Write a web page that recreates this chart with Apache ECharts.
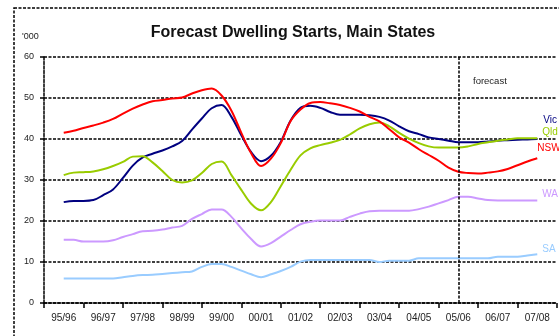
<!DOCTYPE html>
<html>
<head>
<meta charset="utf-8">
<script src="https://cdn.jsdelivr.net/npm/echarts@6/dist/echarts.min.js"></script>
<style>
  html, body { margin: 0; padding: 0; background: #fff; }
  #chart { width: 559px; height: 336px; }
</style>
</head>
<body>
<div id="chart"></div>
<script>
// Financial years shown on the axis
const yearLabels = ['95/96', '96/97', '97/98', '98/99', '99/00', '00/01', '01/02',
  '02/03', '03/04', '04/05', '05/06', '06/07', '07/08'];

// Quarterly dwelling starts ('000), from mid 95/96 to mid 07/08
const firstQuarter = 1996.0;   // mid-point of 95/96 (fiscal year as decimal year)
const forecastFrom = 2006.0;   // mid-point of 05/06

const vic = [24.6, 24.9, 24.9, 25.1, 26.3, 27.7, 30.5, 33.5, 35.5, 36.4, 37.2, 38.2,
  39.5, 42.3, 45.0, 47.5, 48.3, 45.4, 40.9, 36.8, 34.6, 35.9, 39.3, 44.5,
  47.6, 48.1, 47.6, 46.6, 45.9, 45.9, 45.9, 45.8, 45.4, 44.5, 43.1, 41.9,
  41.2, 40.4, 40.0, 39.6, 39.2, 39.2, 39.2, 39.4, 39.6, 39.7, 39.8, 39.9, 40.0];

const qld = [31.2, 31.8, 31.9, 32.1, 32.6, 33.4, 34.4, 35.7, 35.8, 34.3, 32.2, 30.0,
  29.4, 29.9, 31.7, 33.9, 34.5, 31.2, 27.6, 24.2, 22.6, 24.6, 28.5, 32.5,
  36.0, 37.7, 38.5, 39.1, 39.8, 41.1, 42.6, 43.6, 44.0, 43.1, 41.5, 40.1,
  39.0, 38.2, 37.9, 37.9, 37.9, 38.2, 38.8, 39.2, 39.6, 39.9, 40.2, 40.2, 40.2];

const nsw = [41.5, 42.0, 42.7, 43.3, 44.0, 44.9, 46.2, 47.4, 48.4, 49.2, 49.5, 49.9,
  50.1, 51.1, 51.9, 52.3, 50.6, 46.9, 41.5, 36.5, 33.4, 35.2, 39.0, 44.4,
  47.2, 48.8, 49.0, 48.7, 48.3, 47.6, 46.7, 45.4, 44.3, 42.4, 40.4, 39.1,
  37.5, 36.1, 34.7, 33.0, 32.0, 31.7, 31.6, 31.8, 32.1, 32.7, 33.6, 34.5, 35.3];

const wa = [15.4, 15.4, 15.0, 15.0, 15.0, 15.3, 16.1, 16.8, 17.5, 17.6, 17.9, 18.4,
  18.8, 20.5, 21.7, 22.8, 22.8, 21.0, 18.2, 15.6, 13.8, 14.6, 16.2, 17.8,
  19.2, 19.8, 20.1, 20.1, 20.1, 21.0, 21.8, 22.4, 22.5, 22.5, 22.5, 22.5,
  22.9, 23.5, 24.3, 25.1, 25.9, 25.9, 25.5, 25.1, 25.0, 25.0, 25.0, 25.0, 25.0];

const sa = [6.0, 6.0, 6.0, 6.0, 6.0, 6.0, 6.3, 6.6, 6.8, 6.9, 7.1, 7.3,
  7.5, 7.7, 8.8, 9.5, 9.5, 8.8, 7.9, 7.0, 6.3, 7.0, 7.8, 8.8,
  10.1, 10.5, 10.5, 10.5, 10.5, 10.5, 10.5, 10.5, 10.0, 10.3, 10.3, 10.3,
  10.9, 10.9, 10.9, 10.9, 10.9, 10.9, 10.9, 10.9, 11.3, 11.3, 11.3, 11.6, 11.9];

const yTicks = [0, 10, 20, 30, 40, 50, 60];

// pair each quarterly value with its decimal-year position
const toPoints = vals => vals.map((v, i) => [firstQuarter + i * 0.25, v]);

const dash = [3, 1.5];
const ink = '#000';
const font = 'Arial, "Liberation Sans", sans-serif';

function lineSeries(name, vals, color, labelOffset, extra) {
  return Object.assign({
    name: name,
    type: 'line',
    xAxisIndex: 1,
    data: toPoints(vals),
    showSymbol: false,
    smooth: 0.35,
    lineStyle: { color: color, width: 2 },
    itemStyle: { color: color },
    emphasis: { disabled: true },
    endLabel: {
      show: true,
      formatter: '{a}',
      color: color,
      fontFamily: font,
      fontSize: 10,
      distance: 5,
      offset: labelOffset
    },
    z: 3
  }, extra || {});
}

const chart = echarts.init(document.getElementById('chart'), null, { renderer: 'canvas' });

chart.setOption({
  animation: false,
  backgroundColor: '#fff',
  title: {
    text: 'Forecast Dwelling Starts, Main States',
    left: 288, top: 20,
    textAlign: 'center',
    textStyle: { fontFamily: font, fontSize: 16, fontWeight: 'bold', color: '#111' }
  },
  grid: { left: 44, top: 57, right: 2, bottom: 33, containLabel: false },
  xAxis: [
    {
      type: 'category',
      data: yearLabels,
      boundaryGap: true,
      axisLine: { show: true, lineStyle: { color: ink, width: 1.5, type: dash } },
      axisTick: { show: true, length: 5, alignWithLabel: false, lineStyle: { color: ink, width: 1.5 } },
      axisLabel: { color: '#222', fontFamily: font, fontSize: 10, margin: 10, interval: 0 },
      splitLine: { show: false }
    },
    {
      type: 'value',
      min: 1995.5,
      max: 2008.5,
      show: false,
      splitLine: { show: false }
    }
  ],
  yAxis: {
    type: 'value',
    min: yTicks[0],
    max: yTicks[yTicks.length - 1],
    interval: 10,
    axisLine: { show: true, lineStyle: { color: ink, width: 1.5, type: dash } },
    axisTick: { show: true, length: 4, lineStyle: { color: ink, width: 1.5 } },
    axisLabel: { color: '#222', fontFamily: font, fontSize: 9, margin: 10 },
    splitLine: { show: true, lineStyle: { color: ink, width: 1.5, type: dash } }
  },
  graphic: [
    {
      // dashed frame around the whole chart
      type: 'rect',
      shape: { x: 14, y: 8, width: 620, height: 420 },
      style: { fill: 'none', stroke: ink, lineWidth: 1.5, lineDash: dash },
      silent: true
    },
    {
      type: 'text',
      left: 22, top: 32,
      style: { text: "'000", fill: '#222', font: '9px ' + font }
    },
    {
      type: 'text',
      left: 473, top: 76,
      style: { text: 'forecast', fill: '#222', font: '9.5px ' + font }
    }
  ],
  series: [
    lineSeries('Vic', vic, '#000080', [1, -18.5]),
    lineSeries('Qld', qld, '#99cc00', [0, -6]),
    lineSeries('NSW', nsw, '#ff0000', [-5, -10], {
      markLine: {
        silent: true,
        symbol: 'none',
        label: { show: false },
        lineStyle: { color: ink, width: 1.5, type: dash },
        data: [{ xAxis: forecastFrom }]
      }
    }),
    lineSeries('WA', wa, '#cc99ff', [0, -6]),
    lineSeries('SA', sa, '#99ccff', [0, -5])
  ]
});
</script>
</body>
</html>
